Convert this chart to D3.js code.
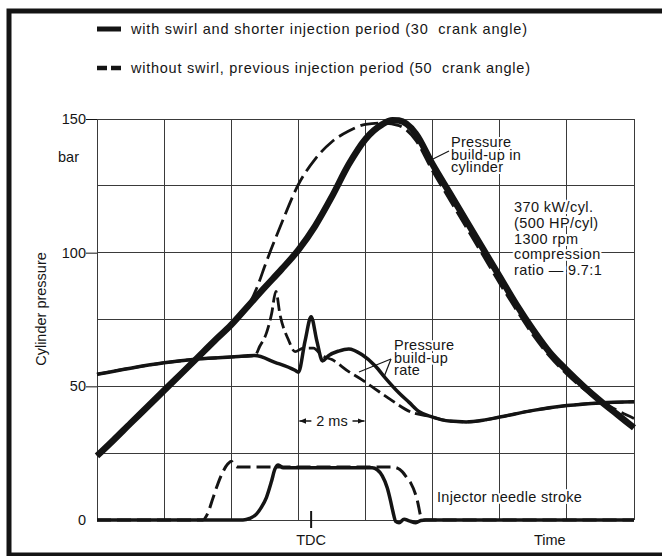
<!DOCTYPE html>
<html>
<head>
<meta charset="utf-8">
<script src="https://cdn.jsdelivr.net/npm/d3@7"></script>
<style>
  html, body { margin: 0; padding: 0; background: #fff; }
  svg { display: block; font-family: "Liberation Sans", Arial, Helvetica, sans-serif; }
  text { fill: #151515; white-space: pre; }
  .halo { stroke: #fff; stroke-width: 4px; paint-order: stroke; stroke-linejoin: round; }
</style>
</head>
<body>
<svg id="chart" width="662" height="556"></svg>
<script>
// Time axis in ms (one grid column = 2 ms), pressure axis in bar
const xTicks = [0, 2, 4, 6, 8, 10, 12, 14, 16];
const yGrid = [0, 25, 50, 75, 100, 125, 150];
const yLabels = [0, 50, 100, 150];
const tdcTime = 6.38;

// Cylinder pressure, with swirl / shorter injection (solid)
const pressureSwirl = [
  [0, 24], [0.5, 30], [1, 36.2], [1.5, 42.3], [2, 48.5], [2.5, 54.6], [3, 60.8], [3.5, 67],
  [4, 73], [4.5, 80], [5, 87], [5.5, 93.8], [6, 101], [6.5, 110], [7, 121],
  [7.5, 133], [8, 142.5], [8.5, 148], [8.8, 149.5], [9, 149.4], [9.5, 144.5],
  [10, 133], [10.5, 122.5], [11, 112], [11.5, 101.5], [12, 91], [12.5, 80.5],
  [13, 71], [13.5, 62.5], [14, 56], [14.5, 50], [15, 44.5], [15.5, 39.5], [16, 34.5]
];
// Cylinder pressure, without swirl / previous injection (dashed)
const pressureNoSwirl = [
  [0, 24], [0.5, 30], [1, 36.2], [1.5, 42.3], [2, 48.5], [2.5, 54.6], [3, 60.8], [3.5, 67],
  [4, 73], [4.5, 80], [4.8, 88], [5, 95], [5.5, 111], [6, 125.5], [6.5, 135],
  [7, 141.5], [7.5, 145.5], [8, 148], [8.5, 148.5], [9, 147.5], [9.5, 142],
  [10, 130.5], [10.5, 120], [11, 109.5], [11.5, 99], [12, 88.5], [12.5, 78.5],
  [13, 69], [13.5, 61], [14, 54.5], [14.5, 49], [15, 44.5], [15.5, 41], [16, 38]
];
// Pressure build-up rate (plotted on the same scale)
const rateSwirl = [
  [0, 54.5], [1, 56.8], [2, 58.8], [3, 60.2], [4, 61], [4.7, 61.5], [5.3, 59],
  [5.9, 56], [6.0, 55.3], [6.2, 67], [6.38, 76], [6.55, 67], [6.72, 59.5],
  [6.9, 61.5], [7.2, 63.2], [7.5, 64], [7.9, 61.8], [8.3, 57.5], [8.6, 53],
  [9, 47.5], [9.3, 44], [9.6, 40.5], [10, 38.5], [10.5, 37], [11, 36.7],
  [11.5, 37.3], [12, 38.5], [13, 41], [14, 42.8], [15, 43.8], [16, 44.2]
];
const rateNoSwirl = [
  [0, 54.5], [1, 56.8], [2, 58.8], [3, 60.2], [4, 61], [4.7, 61.5], [4.85, 65],
  [5.05, 70], [5.2, 77], [5.33, 85.5], [5.45, 77], [5.7, 67.5], [5.9, 63],
  [6.15, 64.3], [6.45, 64.3], [6.7, 61.5], [7, 60], [7.5, 55.5], [7.9, 52.4],
  [8.2, 49.8], [8.75, 45], [9.35, 40.4], [9.9, 38.8], [10.5, 37], [11, 36.7],
  [11.5, 37.3], [12, 38.5], [13, 41], [14, 42.8], [15, 43.8], [16, 44.2]
];
// Injector needle stroke (drawn in the lower band)
const needleSwirl = [
  [0, 0], [4.35, 0], [4.55, 0.6], [4.75, 2.2], [4.9, 4.8], [5.05, 8.5], [5.2, 14.5],
  [5.3, 19], [5.4, 20.6], [5.55, 19.5], [8.2, 19.5], [8.35, 18.8], [8.5, 16.5],
  [8.65, 12], [8.75, 7], [8.82, 3], [8.9, -0.5], [9.0, -1], [9.15, 0.3], [9.3, -0.3],
  [9.5, -1], [9.65, -0.2], [9.8, 0], [16, 0]
];
const needleNoSwirl = [
  [0, 0], [3.15, 0], [3.3, 2.5], [3.45, 8], [3.6, 13.5], [3.75, 18], [3.9, 21],
  [4.0, 22], [4.1, 20.6], [4.2, 19.8], [8.8, 19.8], [8.95, 19.4], [9.1, 18],
  [9.25, 15.5], [9.35, 13.8], [9.55, 7], [9.65, 1.2], [9.72, 0], [16, 0]
];

const legendItems = [
  "with swirl and shorter injection period (30  crank angle)",
  "without swirl, previous injection period (50  crank angle)"
];
const legendWidths = [396, 399];
const engineNotes = ["370 kW/cyl.", "(500 HP/cyl)", "1300 rpm", "compression", "ratio \u2014 9.7:1"];

const svg = d3.select("#chart");
const x = d3.scaleLinear().domain([0, 16]).range([97, 634]);
const y = d3.scaleLinear().domain([0, 150]).range([520, 119]);
const ink = "#141414";

// outer frame
svg.append("rect").attr("x", 9).attr("y", 11).attr("width", 720).attr("height", 544)
  .attr("fill", "none").attr("stroke", ink).attr("stroke-width", 5);

// grid
const grid = svg.append("g").attr("stroke", "#3a3a3a").attr("stroke-width", 1).attr("shape-rendering", "crispEdges");
grid.selectAll("line.v").data(xTicks).join("line")
  .attr("x1", d => x(d)).attr("x2", d => x(d)).attr("y1", y(150)).attr("y2", y(0));
grid.selectAll("line.h").data(yGrid).join("line")
  .attr("x1", x(0)).attr("x2", x(16)).attr("y1", d => y(d)).attr("y2", d => y(d));

// y axis ticks and labels
const yAxis = d3.axisLeft(y).tickValues([50, 100, 150]).tickSize(11).tickFormat("");
svg.append("g").attr("transform", `translate(${x(0)},0)`).call(yAxis)
  .call(g => g.select(".domain").remove())
  .call(g => g.selectAll("line").attr("stroke", ink));
svg.append("g").selectAll("text").data(yLabels).join("text")
  .attr("x", 86).attr("y", d => y(d) + 5).attr("text-anchor", "end")
  .attr("font-size", 14.5).text(d => d);
svg.append("text").attr("x", 58).attr("y", 162).attr("font-size", 14.5).text("bar");
svg.append("text").attr("transform", "translate(46,309) rotate(-90)")
  .attr("text-anchor", "middle").attr("font-size", 14.5).text("Cylinder pressure");

// TDC marker and time label
svg.append("line").attr("x1", x(tdcTime)).attr("x2", x(tdcTime)).attr("y1", 511).attr("y2", 528)
  .attr("stroke", ink).attr("stroke-width", 2);
svg.append("text").attr("x", x(tdcTime)).attr("y", 545).attr("text-anchor", "middle")
  .attr("font-size", 14.5).text("TDC");
svg.append("text").attr("x", 534).attr("y", 545).attr("font-size", 14.5).text("Time");

// annotations with white halo so grid lines break around them
function block(lines, x0, y0, dy, size, spacing) {
  const t = svg.append("text").attr("class", "halo").attr("font-size", size)
    .attr("letter-spacing", spacing || 0);
  lines.forEach((s, i) => t.append("tspan").attr("x", x0).attr("y", y0 + i * dy).text(s));
  return t;
}
block(["Pressure", "build-up in", "cylinder"], 451, 147, 12.5, 14.5, 0.3);
block(engineNotes, 514, 212, 15.8, 14.5, 0.4);
block(["Pressure", "build-up", "rate"], 394, 350, 12.5, 14.5, 0.3);
block(["Injector needle stroke"], 437, 502, 0, 14.5, 0.3);

// 2 ms dimension
const dimY = 421;
svg.append("defs").append("marker").attr("id", "arr").attr("viewBox", "0 0 10 10")
  .attr("refX", 10).attr("refY", 5).attr("markerWidth", 7).attr("markerHeight", 7)
  .attr("markerUnits", "userSpaceOnUse").attr("orient", "auto")
  .append("path").attr("d", "M0,1 L10,5 L0,9 Z").attr("fill", ink);
svg.append("line").attr("x1", x(6) + 13).attr("x2", x(6) + 1).attr("y1", dimY).attr("y2", dimY)
  .attr("stroke", ink).attr("stroke-width", 1.5).attr("marker-end", "url(#arr)");
svg.append("line").attr("x1", x(8) - 13).attr("x2", x(8) - 1).attr("y1", dimY).attr("y2", dimY)
  .attr("stroke", ink).attr("stroke-width", 1.5).attr("marker-end", "url(#arr)");
svg.append("text").attr("x", (x(6) + x(8)) / 2).attr("y", dimY + 5).attr("text-anchor", "middle")
  .attr("font-size", 14.5).text("2 ms");

// curves
const line = d3.line().x(d => x(d[0])).y(d => y(d[1])).curve(d3.curveMonotoneX);
function curve(data, width, dash) {
  svg.append("path").datum(data).attr("d", line).attr("fill", "none")
    .attr("stroke", ink).attr("stroke-width", width)
    .attr("stroke-linejoin", "round").attr("stroke-linecap", "butt")
    .attr("stroke-dasharray", dash || null);
}
curve(needleSwirl, 3.5);
curve(needleNoSwirl, 3, "14,6");
curve(rateSwirl, 3.5);
curve(rateNoSwirl, 2.8, "13,5");
curve(pressureSwirl, 6.5);
curve(pressureNoSwirl, 2.8, "18,6");

// leader lines
const leaders = [
  [[433, 159], [449, 151]],
  [[391, 359], [359, 372]],
  [[391, 359], [384, 377]]
];
svg.append("g").selectAll("path").data(leaders).join("path")
  .attr("d", d => d3.line()(d)).attr("stroke", ink).attr("stroke-width", 1.2).attr("fill", "none");

// legend
const legend = svg.append("g");
legend.append("line").attr("x1", 97).attr("x2", 121).attr("y1", 29).attr("y2", 29)
  .attr("stroke", ink).attr("stroke-width", 5);
legend.append("line").attr("x1", 97).attr("x2", 121).attr("y1", 68).attr("y2", 68)
  .attr("stroke", ink).attr("stroke-width", 4.5).attr("stroke-dasharray", "10,4");
legend.selectAll("text").data(legendItems).join("text")
  .attr("x", 131).attr("y", (d, i) => 34 + i * 39).attr("font-size", 14.5)
  .attr("textLength", (d, i) => legendWidths[i]).attr("lengthAdjust", "spacing")
  .text(d => d);
</script>
</body>
</html>
